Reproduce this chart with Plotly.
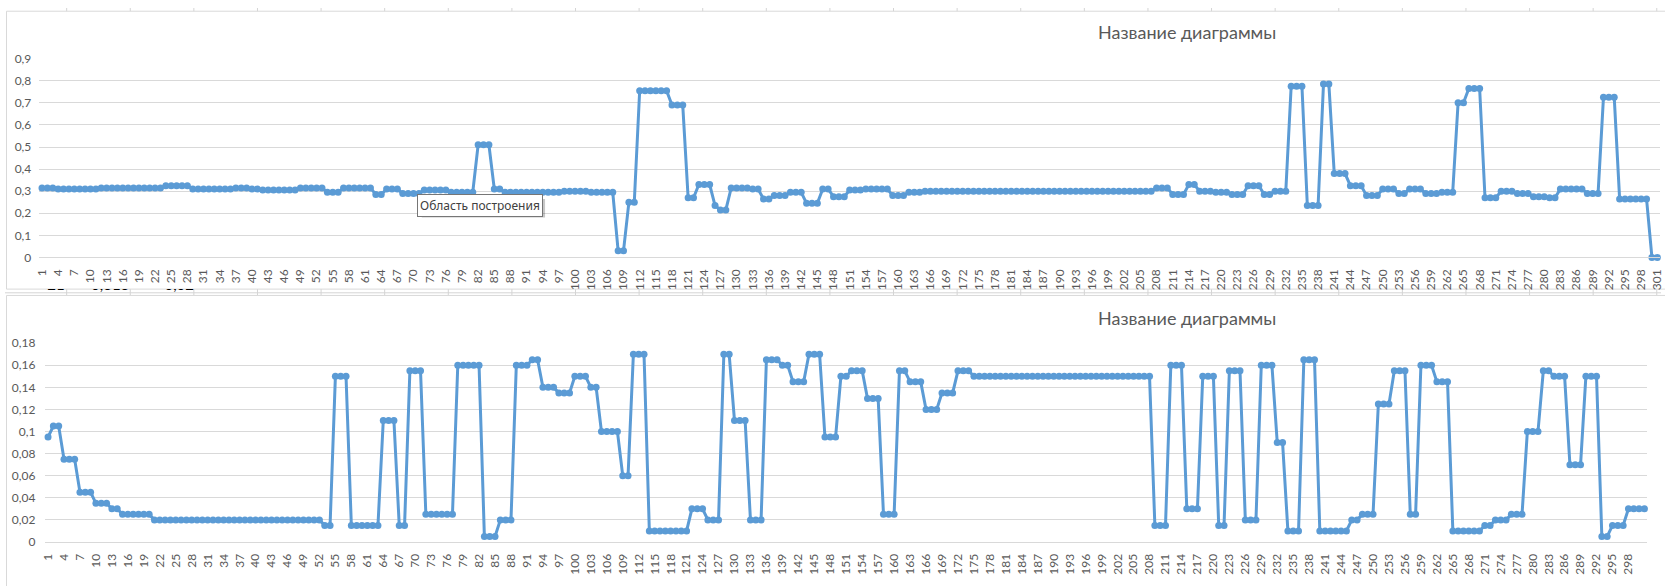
import plotly.graph_objects as go

# categories 1..301 (row numbers used as the x axis in both charts)
categories = list(range(1, 302))
top_tick_vals = categories[::3]
top_tick_labels = [str(c) for c in top_tick_vals]
bottom_tick_vals = categories[:298:3]
bottom_tick_labels = [str(c) for c in bottom_tick_vals]

# upper chart values
top_values = [
    0.315, 0.315, 0.315, 0.31, 0.31, 0.31, 0.31, 0.31, 0.31, 0.31,
    0.31, 0.315, 0.315, 0.315, 0.315, 0.315, 0.315, 0.315, 0.315, 0.315,
    0.315, 0.315, 0.315, 0.325, 0.325, 0.325, 0.325, 0.325, 0.31, 0.31,
    0.31, 0.31, 0.31, 0.31, 0.31, 0.31, 0.315, 0.315, 0.315, 0.31,
    0.31, 0.305, 0.305, 0.305, 0.305, 0.305, 0.305, 0.305, 0.315, 0.315,
    0.315, 0.315, 0.315, 0.295, 0.295, 0.295, 0.315, 0.315, 0.315, 0.315,
    0.315, 0.315, 0.285, 0.285, 0.31, 0.31, 0.31, 0.29, 0.29, 0.29,
    0.29, 0.305, 0.305, 0.305, 0.305, 0.305, 0.295, 0.295, 0.295, 0.295,
    0.295, 0.51, 0.51, 0.51, 0.31, 0.31, 0.295, 0.295, 0.295, 0.295,
    0.295, 0.295, 0.295, 0.295, 0.295, 0.295, 0.295, 0.3, 0.3, 0.3,
    0.3, 0.3, 0.295, 0.295, 0.295, 0.295, 0.295, 0.03, 0.03, 0.25,
    0.25, 0.755, 0.755, 0.755, 0.755, 0.755, 0.755, 0.69, 0.69, 0.69,
    0.27, 0.27, 0.33, 0.33, 0.33, 0.235, 0.215, 0.215, 0.315, 0.315,
    0.315, 0.315, 0.31, 0.31, 0.265, 0.265, 0.28, 0.28, 0.28, 0.295,
    0.295, 0.295, 0.245, 0.245, 0.245, 0.31, 0.31, 0.275, 0.275, 0.275,
    0.305, 0.305, 0.305, 0.31, 0.31, 0.31, 0.31, 0.31, 0.28, 0.28,
    0.28, 0.295, 0.295, 0.295, 0.3, 0.3, 0.3, 0.3, 0.3, 0.3,
    0.3, 0.3, 0.3, 0.3, 0.3, 0.3, 0.3, 0.3, 0.3, 0.3,
    0.3, 0.3, 0.3, 0.3, 0.3, 0.3, 0.3, 0.3, 0.3, 0.3,
    0.3, 0.3, 0.3, 0.3, 0.3, 0.3, 0.3, 0.3, 0.3, 0.3,
    0.3, 0.3, 0.3, 0.3, 0.3, 0.3, 0.3, 0.315, 0.315, 0.315,
    0.285, 0.285, 0.285, 0.33, 0.33, 0.3, 0.3, 0.3, 0.295, 0.295,
    0.295, 0.285, 0.285, 0.285, 0.325, 0.325, 0.325, 0.285, 0.285, 0.3,
    0.3, 0.3, 0.775, 0.775, 0.775, 0.235, 0.235, 0.235, 0.785, 0.785,
    0.38, 0.38, 0.38, 0.325, 0.325, 0.325, 0.28, 0.28, 0.28, 0.31,
    0.31, 0.31, 0.29, 0.29, 0.31, 0.31, 0.31, 0.29, 0.29, 0.29,
    0.295, 0.295, 0.295, 0.7, 0.7, 0.765, 0.765, 0.765, 0.27, 0.27,
    0.27, 0.3, 0.3, 0.3, 0.29, 0.29, 0.29, 0.275, 0.275, 0.275,
    0.27, 0.27, 0.31, 0.31, 0.31, 0.31, 0.31, 0.29, 0.29, 0.29,
    0.725, 0.725, 0.725, 0.265, 0.265, 0.265, 0.265, 0.265, 0.265, 0,
    0,
]

# lower chart values
bottom_values = [
    0.095, 0.105, 0.105, 0.075, 0.075, 0.075, 0.045, 0.045, 0.045, 0.035,
    0.035, 0.035, 0.03, 0.03, 0.025, 0.025, 0.025, 0.025, 0.025, 0.025,
    0.02, 0.02, 0.02, 0.02, 0.02, 0.02, 0.02, 0.02, 0.02, 0.02,
    0.02, 0.02, 0.02, 0.02, 0.02, 0.02, 0.02, 0.02, 0.02, 0.02,
    0.02, 0.02, 0.02, 0.02, 0.02, 0.02, 0.02, 0.02, 0.02, 0.02,
    0.02, 0.02, 0.015, 0.015, 0.15, 0.15, 0.15, 0.015, 0.015, 0.015,
    0.015, 0.015, 0.015, 0.11, 0.11, 0.11, 0.015, 0.015, 0.155, 0.155,
    0.155, 0.025, 0.025, 0.025, 0.025, 0.025, 0.025, 0.16, 0.16, 0.16,
    0.16, 0.16, 0.005, 0.005, 0.005, 0.02, 0.02, 0.02, 0.16, 0.16,
    0.16, 0.165, 0.165, 0.14, 0.14, 0.14, 0.135, 0.135, 0.135, 0.15,
    0.15, 0.15, 0.14, 0.14, 0.1, 0.1, 0.1, 0.1, 0.06, 0.06,
    0.17, 0.17, 0.17, 0.01, 0.01, 0.01, 0.01, 0.01, 0.01, 0.01,
    0.01, 0.03, 0.03, 0.03, 0.02, 0.02, 0.02, 0.17, 0.17, 0.11,
    0.11, 0.11, 0.02, 0.02, 0.02, 0.165, 0.165, 0.165, 0.16, 0.16,
    0.145, 0.145, 0.145, 0.17, 0.17, 0.17, 0.095, 0.095, 0.095, 0.15,
    0.15, 0.155, 0.155, 0.155, 0.13, 0.13, 0.13, 0.025, 0.025, 0.025,
    0.155, 0.155, 0.145, 0.145, 0.145, 0.12, 0.12, 0.12, 0.135, 0.135,
    0.135, 0.155, 0.155, 0.155, 0.15, 0.15, 0.15, 0.15, 0.15, 0.15,
    0.15, 0.15, 0.15, 0.15, 0.15, 0.15, 0.15, 0.15, 0.15, 0.15,
    0.15, 0.15, 0.15, 0.15, 0.15, 0.15, 0.15, 0.15, 0.15, 0.15,
    0.15, 0.15, 0.15, 0.15, 0.15, 0.15, 0.15, 0.15, 0.015, 0.015,
    0.015, 0.16, 0.16, 0.16, 0.03, 0.03, 0.03, 0.15, 0.15, 0.15,
    0.015, 0.015, 0.155, 0.155, 0.155, 0.02, 0.02, 0.02, 0.16, 0.16,
    0.16, 0.09, 0.09, 0.01, 0.01, 0.01, 0.165, 0.165, 0.165, 0.01,
    0.01, 0.01, 0.01, 0.01, 0.01, 0.02, 0.02, 0.025, 0.025, 0.025,
    0.125, 0.125, 0.125, 0.155, 0.155, 0.155, 0.025, 0.025, 0.16, 0.16,
    0.16, 0.145, 0.145, 0.145, 0.01, 0.01, 0.01, 0.01, 0.01, 0.01,
    0.015, 0.015, 0.02, 0.02, 0.02, 0.025, 0.025, 0.025, 0.1, 0.1,
    0.1, 0.155, 0.155, 0.15, 0.15, 0.15, 0.07, 0.07, 0.07, 0.15,
    0.15, 0.15, 0.005, 0.005, 0.015, 0.015, 0.015, 0.03, 0.03, 0.03,
    0.03,
]

top_y_ticks = [0, 0.1, 0.2, 0.3, 0.4, 0.5, 0.6, 0.7, 0.8, 0.9]
top_y_labels = ["0", "0,1", "0,2", "0,3", "0,4", "0,5", "0,6", "0,7", "0,8", "0,9"]
bottom_y_ticks = [0, 0.02, 0.04, 0.06, 0.08, 0.1, 0.12, 0.14, 0.16, 0.18]
bottom_y_labels = ["0", "0,02", "0,04", "0,06", "0,08", "0,1", "0,12", "0,14", "0,16", "0,18"]

chart_title = "Название диаграммы"
hover_label = "Область построения"
# spreadsheet cells peeking out between the two charts
cell_texts = ["21", "0,313", "0,02"]
cell_right_edges = [60, 125, 190]

W, H = 1665, 586
BLUE = "#5B9BD5"
GRID = "#D9D9D9"
TXT = "#595959"
FONT = "Lato"


def fx(px):
    return px / W


def fy(py):
    return 1 - py / H


fig = go.Figure()

fig.add_trace(go.Scatter(
    x=categories, y=top_values, mode="lines+markers",
    line=dict(color=BLUE, width=3),
    marker=dict(color=BLUE, size=7),
    cliponaxis=False, xaxis="x", yaxis="y",
))
fig.add_trace(go.Scatter(
    x=categories, y=bottom_values, mode="lines+markers",
    line=dict(color=BLUE, width=3),
    marker=dict(color=BLUE, size=7),
    cliponaxis=False, xaxis="x2", yaxis="y2",
))
# cell text, clipped by the strip between the charts
fig.add_trace(go.Scatter(
    x=cell_right_edges, y=[286] * len(cell_texts), text=cell_texts,
    mode="text", textposition="middle left",
    textfont=dict(family=FONT, size=15, color="#000000"),
    cliponaxis=True, xaxis="x3", yaxis="y3", hoverinfo="skip",
))

xcommon = dict(
    range=[0.5, 301.5], tickangle=-90, showgrid=False, zeroline=False,
    showline=True, linecolor=GRID, linewidth=1, ticks="", ticklabelstandoff=6,
    ticklabeloverflow="allow",
    tickfont=dict(family=FONT, size=12, color=TXT),
)
ycommon = dict(
    showgrid=True, gridcolor=GRID, gridwidth=1, zeroline=False,
    showline=False, ticks="",
    tickfont=dict(family=FONT, size=12, color=TXT),
)

fig.update_layout(
    width=W, height=H, autosize=False,
    margin=dict(l=0, r=0, t=0, b=0),
    paper_bgcolor="white", plot_bgcolor="white",
    showlegend=False,
    xaxis=dict(domain=[fx(34.5), fx(1664)], anchor="y",
               tickvals=top_tick_vals, ticktext=top_tick_labels, **xcommon),
    yaxis=dict(domain=[fy(256), fy(52)], range=[0, 0.9], anchor="x",
               tickvals=top_y_ticks, ticktext=top_y_labels,
               ticklabelstandoff=7, **ycommon),
    xaxis2=dict(domain=[fx(40.6), fx(1651)], anchor="y2",
                tickvals=bottom_tick_vals, ticktext=bottom_tick_labels, **xcommon),
    yaxis2=dict(domain=[fy(548), fy(344)], range=[0, 0.18], anchor="x2",
                tickvals=bottom_y_ticks, ticktext=bottom_y_labels,
                ticklabelstandoff=9, **ycommon),
    xaxis3=dict(domain=[0, 1], range=[0, W], anchor="y3", visible=False),
    yaxis3=dict(domain=[fy(295), fy(288.5)], range=[295, 288.5], anchor="x3",
                visible=False),
)

shapes = []
# sheet cell borders behind the charts
for k in range(26):
    cx = 62 + 63.95 * k
    shapes.append(dict(type="line", xref="paper", yref="paper",
                       x0=fx(cx), x1=fx(cx), y0=0, y1=1,
                       line=dict(color="#D4D4D4", width=1), layer="below"))
shapes.append(dict(type="line", xref="paper", yref="paper",
                   x0=0, x1=1, y0=fy(292.3), y1=fy(292.3),
                   line=dict(color="#D4D4D4", width=1), layer="below"))
# chart areas
shapes.append(dict(type="rect", xref="paper", yref="paper",
                   x0=fx(1.5), x1=fx(1680), y0=fy(288.5), y1=fy(3.3),
                   fillcolor="white", line=dict(color=GRID, width=1), layer="below"))
shapes.append(dict(type="rect", xref="paper", yref="paper",
                   x0=fx(1.5), x1=fx(1680), y0=fy(600), y1=fy(295),
                   fillcolor="white", line=dict(color=GRID, width=1), layer="below"))
# shadow of the hover label
shapes.append(dict(type="rect", xref="paper", yref="paper",
                   x0=fx(419), x1=fx(543), y0=fy(215), y1=fy(196),
                   fillcolor="rgba(0,0,0,0.22)", line=dict(width=0), layer="above"))
fig.update_layout(shapes=shapes)

for ty in (25, 318):
    fig.add_annotation(x=fx(1188), y=fy(ty), xref="paper", yref="paper",
                       xanchor="center", yanchor="middle",
                       text=chart_title, showarrow=False,
                       font=dict(family=FONT, size=18, color=TXT))
fig.add_annotation(x=fx(478), y=fy(202.5), xref="paper", yref="paper",
                   xanchor="center", yanchor="middle",
                   text=hover_label, showarrow=False,
                   font=dict(family="Noto Sans", size=12, color="#404040"),
                   bgcolor="white", bordercolor="#767676", borderwidth=1,
                   borderpad=2)

fig.write_html("out.html", config={"displayModeBar": False},
               post_script="document.body.style.margin='0';document.body.style.overflow='hidden';")
